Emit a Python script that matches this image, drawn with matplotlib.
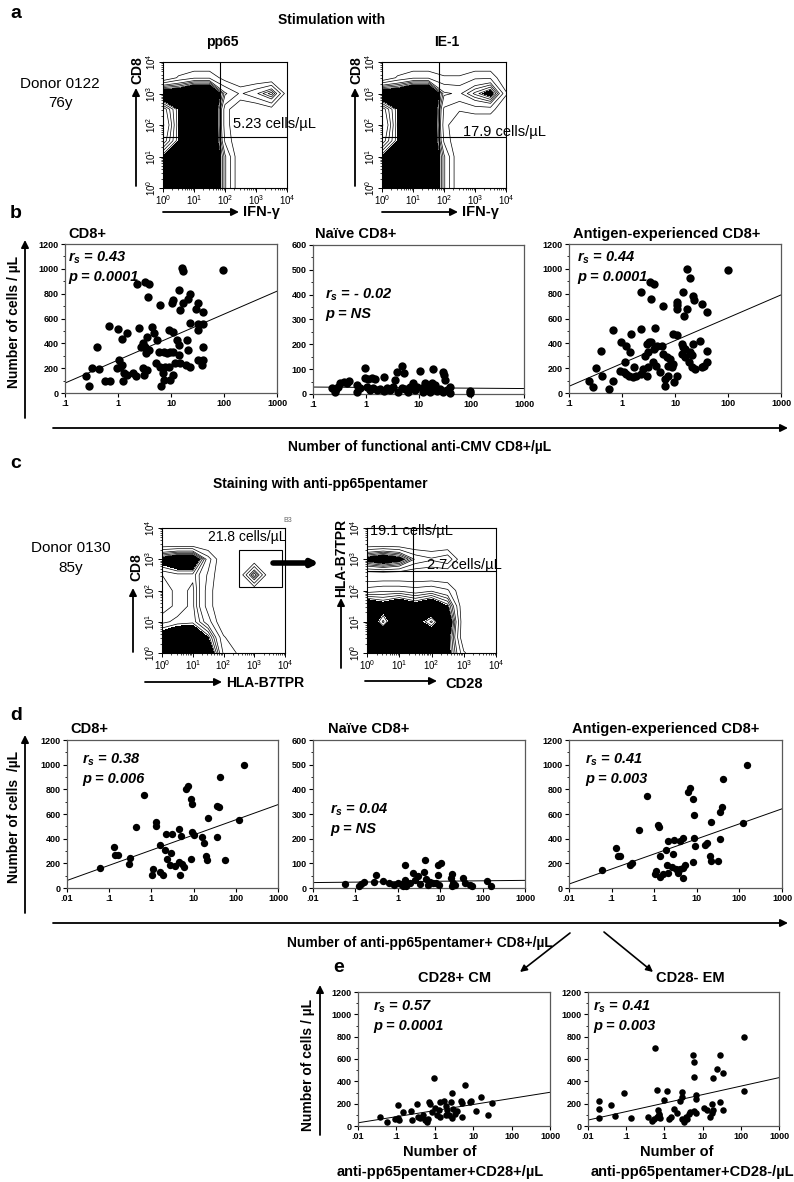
import numpy as np
import matplotlib
matplotlib.use('Agg')
import matplotlib.pyplot as plt
from matplotlib.patches import FancyArrowPatch, Rectangle
from matplotlib.ticker import FixedLocator, NullLocator, MultipleLocator

plt.rcParams['font.family'] = ['Liberation Sans', 'DejaVu Sans']
plt.rcParams['mathtext.fontset'] = 'custom'
plt.rcParams['mathtext.rm'] = 'Liberation Sans'
plt.rcParams['mathtext.it'] = 'Liberation Sans:italic:bold'
plt.rcParams['mathtext.bf'] = 'Liberation Sans:bold'

# ---- data ----
# b : functional anti-CMV CD8+ (x) vs CD8 subsets (y)
b_cd8_x = [95, 16, 17, 2.3, 3.3, 3.9, 3.7, 6.3, 14.4, 11, 10.5, 23, 21, 17, 32, 29, 15, 40, 0.69, 1.0,
           2.5, 1.5, 1.2, 0.41, 4.4, 4.8, 3.6, 5.5, 9.0, 11, 12.9, 14, 20, 20.5, 32, 32, 40, 23, 40, 3.0,
           3.3, 3.9, 3.4, 2.7, 6, 7.5, 8.4, 9.4, 11, 14, 0.245, 0.28, 0.33, 0.44, 0.56, 0.7, 1.04, 1.1, 0.97, 1.2,
           1.3, 1.5, 1.9, 2.2, 1.26, 3.1, 3.6, 3.0, 5.2, 6.3, 7.7, 9.3, 12, 15, 19, 23, 32, 40, 38, 7.1,
           7.3, 6.6, 9.7, 11]
b_cd8_y = [990, 1008, 980, 880, 895, 880, 775, 712, 832, 752, 725, 800, 760, 725, 725, 680, 667, 653, 539, 512,
           520, 480, 432, 373, 528, 480, 448, 427, 507, 493, 427, 387, 427, 347, 507, 555, 555, 565, 373, 400,
           373, 347, 320, 373, 333, 333, 320, 333, 333, 307, 133, 53, 200, 192, 93, 93, 267, 213, 200, 227,
           165, 147, 160, 139, 93, 147, 187, 200, 240, 213, 213, 213, 240, 240, 227, 213, 267, 267, 227, 160,
           107, 53, 107, 147]
b_naive_x = [0.23, 0.26, 0.27, 0.3, 0.33, 0.38, 0.44, 0.49, 0.68, 0.69, 0.97, 0.97, 1.1, 1.3, 1.5, 2.2, 3.6, 3.9,
             4.8, 5.3, 10.8, 18.6, 28.6, 30, 32, 0.78, 1.04, 1.2, 1.4, 1.6, 1.87, 2.2, 2.5, 2.9, 3.3, 4.1, 4.8,
             5.5, 6.4, 6.9, 8.0, 8.6, 9.2, 11.5, 12.3, 13.3, 14.3, 15.3, 16.5, 17.7, 19, 20.5, 22, 25.5, 29.5,
             34, 39, 39, 94, 94]
b_naive_y = [25, 9, 19, 30, 43, 50, 46, 54, 36, 9, 104, 63, 59, 63, 59, 67, 57, 90, 113, 86, 94, 100, 90, 77, 57,
             23, 30, 16, 23, 16, 19, 13, 23, 16, 30, 9, 23, 19, 9, 30, 43, 16, 30, 23, 9, 43, 16, 30, 9, 43, 23,
             36, 13, 19, 9, 16, 27, 5, 5, 13]
b_ag_x = [99, 16.6, 19, 2.25, 3.4, 4.1, 3.6, 6.0, 14.3, 10.8, 10.8, 11, 22, 23, 32, 17, 40, 15, 0.68, 2.3,
          4.2, 1.5, 0.97, 1.2, 0.4, 1.4, 2.9, 3.2, 3.6, 4.1, 4.6, 5.6, 9, 10.8, 13.3, 14.3, 15.5, 21.6, 30, 19,
          20.6, 40, 2.7, 3.1, 6, 7, 8, 13.4, 15.6, 18.2, 40, 35, 32, 20.6, 24, 0.24, 0.28, 0.33, 0.42, 0.57,
          0.68, 0.93, 1.1, 1.2, 1.36, 1.6, 1.16, 1.66, 1.87, 2.3, 2.9, 2.5, 3.1, 3.9, 4.3, 5.2, 6.4, 6.4, 7.4, 7.4,
          8.6, 9.2, 10.7, 9.5]
b_ag_y = [987, 1000, 928, 817, 890, 875, 758, 704, 812, 731, 678, 710, 785, 745, 718, 678, 656, 624, 511, 516,
          524, 476, 414, 382, 341, 333, 395, 409, 409, 355, 382, 382, 476, 468, 395, 368, 355, 395, 422, 328,
          306, 341, 301, 328, 314, 288, 274, 314, 288, 247, 247, 220, 206, 206, 193, 100, 46, 198, 140, 32,
          100, 180, 167, 153, 140, 126, 247, 207, 140, 153, 140, 193, 207, 247, 220, 172, 113, 59, 140, 220,
          207, 234, 140, 92]

# d : anti-pp65pentamer+ CD8+ (x) vs CD8 subsets (y)
d_cd8_x = [0.68, 6.6, 7.2, 8.6, 42.7, 160, 9.1, 35.5, 40, 22.5, 122, 0.44, 1.3, 1.3, 0.13, 0.134, 0.16, 0.06,
           0.31, 0.29, 2.2, 3.1, 4.4, 5, 9.1, 10, 16, 18, 35.5, 20, 21, 56, 1.57, 2.14, 2.9, 2.3, 2.8, 3.7,
           4.4, 5.3, 5.8, 8.8, 1.1, 1.6, 1.9, 1.04, 4.8]
d_cd8_y = [758, 805, 830, 724, 899, 1000, 681, 663, 655, 565, 549, 496, 538, 504, 331, 270, 270, 159,
           244, 193, 437, 437, 482, 419, 458, 432, 416, 363, 416, 260, 225, 230, 352, 310, 283, 238, 185, 177,
           212, 193, 172, 238, 151, 132, 106, 106, 106]
d_naive_x = [0.057, 0.12, 0.135, 0.16, 0.31, 0.28, 0.44, 0.63, 1.2, 1.3, 1.44, 1.57, 1.44, 2.27, 3, 2.5, 4.3,
             4.1, 4.7, 5.6, 6.7, 8.1, 8.9, 10.2, 8.9, 9.4, 19.4, 18.3, 20, 19.4, 22, 34.6, 38, 51, 57, 124,
             154, 0.83, 1, 1.9, 3.3, 5.1]
d_naive_y = [16, 9, 17, 26, 53, 26, 30, 22, 17, 7, 33, 7, 92, 62, 49, 33, 114, 66, 36, 26, 20, 22, 92, 101,
             53, 13, 57, 40, 22, 7, 13, 42, 22, 13, 9, 30, 7, 13, 22, 20, 17, 13]
d_ag_x = [0.66, 6.3, 7.0, 8.3, 41, 150, 8.7, 39, 35, 21.6, 120, 0.44, 1.24, 1.29, 0.13, 0.14, 0.16, 0.058,
          0.27, 0.3, 2.1, 2.9, 4, 4.7, 8.7, 9.1, 17.3, 15.7, 35.5, 1.36, 1.9, 2.8, 20, 21, 32, 8.3, 2.0, 2.6,
          3.3, 4, 4.8, 5.3, 1.04, 1.13, 1.4, 1.6, 2.1, 3.7, 4.7]
d_ag_y = [743, 780, 809, 723, 886, 994, 594, 654, 615, 535, 530, 474, 509, 496, 323, 257, 257, 146, 183,
          199, 384, 390, 384, 403, 403, 337, 368, 350, 395, 257, 305, 276, 257, 217, 217, 209, 183, 172,
          151, 151, 164, 183, 111, 138, 93, 111, 125, 125, 85]

# e : CD28+ CM and CD28- EM
e_cm_x = [0.038, 0.056, 0.093, 0.11, 0.118, 0.11, 0.145, 0.24, 0.25, 0.34, 0.37, 0.42, 0.48, 0.57, 0.63,
          0.67, 0.72, 0.77, 0.94, 0.85, 1.04, 1.15, 1.27, 1.4, 1.9, 2.1, 2.33, 2.73, 2.6, 3, 3.35, 3.85, 4.7,
          5.2, 5.2, 6.1, 8.1, 8.6, 12.1, 16.4, 23.6, 31, 1.7, 1.9, 2.85, 1.4]
e_cm_y = [82, 38, 59, 76, 53, 185, 126, 135, 53, 193, 82, 73, 97, 53, 38, 59, 214, 193, 434, 126, 164, 97,
          141, 214, 176, 141, 97, 293, 214, 155, 111, 135, 228, 205, 82, 369, 214, 228, 135, 258, 97, 205,
          228, 97, 76, 82]
e_em_x = [0.02, 0.02, 0.02, 0.039, 0.05, 0.088, 0.13, 0.37, 0.48, 0.53, 0.64, 0.71, 0.58, 0.64, 0.67, 0.71,
          0.78, 1.17, 1.0, 1.3, 1.5, 1.75, 2.2, 2.5, 2.9, 2.9, 2.9, 3.2, 3.6, 3.9, 4.3, 5.6, 5.8, 5.8, 4.8,
          5.9, 6.8, 6.8, 6.8, 11, 13, 15.8, 18, 18, 19, 19, 23.6, 27.7, 34, 28.8, 34, 122, 122]
e_em_y = [220, 155, 76, 185, 88, 296, 70, 82, 44, 67, 82, 97, 697, 325, 146, 105, 76, 311, 237, 67, 82, 155,
          117, 223, 258, 308, 67, 38, 82, 59, 103, 639, 574, 439, 126, 135, 117, 281, 243, 164, 146, 82, 117,
          199, 141, 428, 507, 636, 478, 214, 141, 800, 316]

# regression lines: (value at x=1, change per decade)
fit_b = [(265, 185), (26.5, -1.5), (238, 184)]
fit_d = [(307, 123), (25.6, 1.8), (276, 122)]
fit_e = [(138, 54.6), (205, 76)]

stats_b = [('0.43', '0.0001'), ('- 0.02', 'NS'), ('0.44', '0.0001')]
stats_d = [('0.38', '0.006'), ('0.04', 'NS'), ('0.41', '0.003')]
stats_e = [('0.57', '0.0001'), ('0.41', '0.003')]

# flow cytometry density (log decades 0..4, step 0.5), rows from top (10^4) to bottom (10^0)
flow_pp65 = [[0, 0, 0, 0, 0, 0, 0, 0, 0],
             [0, 0.8, 1.2, 1.2, 0.4, 0, 0, 0, 0],
             [4, 4, 5, 5, 2, 1.2, 1.8, 2.7, 0.3],
             [1.6, 3, 5, 5, 1, 0, 0, 0.4, 0],
             [1.2, 3, 5, 5, 1, 0, 0, 0, 0],
             [1.6, 3, 5, 5, 1.2, 0, 0, 0, 0],
             [3, 4, 5, 5, 2, 0, 0, 0, 0],
             [4, 5, 5, 5, 2, 0, 0, 0, 0],
             [4, 5, 5, 5, 2, 0, 0, 0, 0]]
flow_ie1 = [[0, 0, 0, 0, 0, 0, 0, 0, 0],
            [0, 0.8, 1.2, 1.2, 0.8, 0.8, 1.2, 1.2, 0],
            [4, 4, 5, 5, 2, 1.8, 2.6, 3.4, 0.8],
            [1.6, 3, 5, 5, 1.2, 0.8, 1, 1, 0],
            [1.2, 3, 5, 5, 1, 0, 0, 0, 0],
            [1.6, 3, 5, 5, 1.2, 0, 0, 0, 0],
            [3, 4, 5, 5, 2, 0, 0, 0, 0],
            [4, 5, 5, 5, 2, 0, 0, 0, 0],
            [4, 5, 5, 5, 2, 0, 0, 0, 0]]
flow_pent = [[0, 0, 0, 0, 0, 0, 0, 0, 0],
             [0, 0, 0, 0, 0, 0, 0, 0, 0],
             [3.4, 4, 4, 1.6, 0, 0, 0, 0, 0],
             [2.2, 2.4, 2.4, 1.2, 0, 0, 2.8, 0, 0],
             [2.0, 2.3, 2.6, 1, 0, 0, 0, 0, 0],
             [2.0, 2.3, 2.6, 1, 0, 0, 0, 0, 0],
             [2.4, 2.6, 2.7, 1.6, 0, 0, 0, 0, 0],
             [3.4, 4, 4, 3, 0.8, 0, 0, 0, 0],
             [4, 5, 5, 4, 1.2, 0.6, 0, 0, 0]]
flow_cd28 = [[0, 0, 0, 0, 0, 0, 0, 0, 0],
             [0, 0, 0, 0, 0, 0, 0, 0, 0],
             [3.4, 4, 3.4, 1.8, 1.4, 1.8, 0, 0, 0],
             [0, 0, 0, 0, 0, 0, 0, 0, 0],
             [1.6, 1.8, 1.8, 1.6, 1.8, 1.4, 0, 0, 0],
             [4, 3.4, 4, 3.4, 4, 3, 0, 0, 0],
             [4, 2.4, 4, 3.4, 2.4, 4, 0, 0, 0],
             [3.4, 4, 4, 3.4, 4, 3.4, 0, 0, 0],
             [3.4, 4, 4, 3.4, 4, 3.4, 0.8, 0, 0]]

W, H = 794, 1182
fig = plt.figure(figsize=(W / 100, H / 100), dpi=100)


def box(l, t, r, b):
    return [l / W, 1 - b / H, (r - l) / W, (b - t) / H]


def txt(x, y, s, **kw):
    kw.setdefault('va', 'center')
    fig.text(x / W, 1 - y / H, s, **kw)


def arrow(x0, y0, x1, y1, lw=1.3, ms=11, style='-|>'):
    fig.add_artist(FancyArrowPatch((x0 / W, 1 - y0 / H), (x1 / W, 1 - y1 / H),
                                   transform=fig.transFigure, arrowstyle=style,
                                   mutation_scale=ms, lw=lw, color='k',
                                   shrinkA=0, shrinkB=0))


def flow(rect, grid, qx=None, qy=None):
    ax = fig.add_axes(box(*rect))
    Z = np.array(grid, float)[::-1]
    g = np.linspace(0, 4, Z.shape[0])
    ax.contourf(g, g, Z, levels=[3, 99], colors='k')
    ax.contour(g, g, Z, levels=[0.7, 1.3, 1.9, 2.2, 2.5, 2.8], colors='k', linewidths=0.5)
    if qx is not None:
        ax.axvline(qx, color='k', lw=0.8)
        ax.axhline(qy, color='k', lw=0.8)
    ax.set_xlim(0, 4)
    ax.set_ylim(0, 4)
    labs = [r'$10^{%d}$' % i for i in range(5)]
    ax.set_xticks(range(5))
    ax.set_xticklabels(labs, fontsize=7)
    ax.set_yticks(range(5))
    ax.set_yticklabels(labs, fontsize=7, rotation=90, va='center')
    minors = [d + np.log10(k) for d in range(4) for k in range(2, 10)]
    ax.xaxis.set_minor_locator(FixedLocator(minors))
    ax.yaxis.set_minor_locator(FixedLocator(minors))
    ax.tick_params(which='major', length=3, width=0.7, pad=0.5)
    ax.tick_params(which='minor', length=1.5, width=0.5)
    for s in ax.spines.values():
        s.set_linewidth(0.8)
    return ax


def scatter(rect, xs, ys, fit, stats, xmin, ymax, ystep, size, stat_xy):
    ax = fig.add_axes(box(*rect))
    ax.scatter(xs, ys, s=size, c='k', lw=0, clip_on=False, zorder=3)
    lx = np.array([xmin, 1000.0])
    ax.plot(lx, fit[0] + fit[1] * np.log10(lx), color='k', lw=0.7)
    ax.set_xscale('log')
    ax.set_xlim(xmin, 1000)
    ax.set_ylim(0, ymax)
    dec = [xmin * 10 ** i for i in range(int(round(np.log10(1000 / xmin))) + 1)]
    ax.set_xticks(dec)
    ax.set_xticklabels([('%g' % d).lstrip('0') if d < 1 else '%g' % d for d in dec])
    ax.xaxis.set_minor_locator(NullLocator())
    ax.yaxis.set_major_locator(MultipleLocator(ystep))
    ax.yaxis.set_minor_locator(MultipleLocator(ystep / 2))
    ax.tick_params(which='major', labelsize=6.5, length=3, width=0.8, pad=1.5)
    ax.tick_params(which='minor', length=1.5, width=0.6)
    for lab in ax.get_xticklabels() + ax.get_yticklabels():
        lab.set_fontweight('bold')
    for s in ax.spines.values():
        s.set_linewidth(0.9)
        s.set_color('0.35')
    sx, sy = stat_xy
    txt(sx, sy, r'$r_s$ = ' + stats[0], fontsize=10.5, fontweight='bold', style='italic')
    txt(sx, sy + 19, 'p = ' + stats[1], fontsize=10.5, fontweight='bold', style='italic')
    return ax


# ---------- panel a ----------
txt(10, 14, 'a', fontsize=14, fontweight='bold')
txt(332, 20, 'Stimulation with', fontsize=10, fontweight='bold', ha='center')
txt(222, 42, 'pp65', fontsize=10, fontweight='bold', ha='center')
txt(447, 42, 'IE-1', fontsize=10, fontweight='bold', ha='center')
txt(60, 84, 'Donor 0122', fontsize=11, ha='center')
txt(60, 103, '76y', fontsize=11, ha='center')

flow((163, 62, 287, 188), flow_pp65, 1.84, 1.62)
flow((382, 62, 506, 188), flow_ie1, 1.85, 1.63)
txt(233, 124, '5.23 cells/µL', fontsize=10.5)
txt(463, 132, '17.9 cells/µL', fontsize=10.5)
for x0 in (136, 355):
    arrow(x0, 186, x0, 88)
    txt(x0 + 1, 70, 'CD8', fontsize=10, fontweight='bold', rotation=90, ha='center')
for x0 in (163, 382):
    arrow(x0, 212, x0 + 76, 212)
    txt(x0 + 80, 212, 'IFN-γ', fontsize=10.5, fontweight='bold')

# ---------- panel b ----------
txt(10, 214, 'b', fontsize=14, fontweight='bold')
scatter((65, 244, 277, 393), b_cd8_x, b_cd8_y, fit_b[0], stats_b[0], 0.1, 1200, 200, 36, (68, 258))
scatter((313, 245, 524, 394), b_naive_x, b_naive_y, fit_b[1], stats_b[1], 0.1, 600, 100, 36, (325, 295))
scatter((569, 244, 781, 393), b_ag_x, b_ag_y, fit_b[2], stats_b[2], 0.1, 1200, 200, 36, (577, 258))
txt(68, 234, 'CD8+', fontsize=10.5, fontweight='bold')
txt(315, 234, 'Naïve CD8+', fontsize=10.5, fontweight='bold')
txt(573, 234, 'Antigen-experienced CD8+', fontsize=10.5, fontweight='bold')
arrow(25, 418, 25, 240)
txt(14, 322, 'Number of cells / µL', fontsize=10, fontweight='bold', rotation=90, ha='center')
arrow(53, 428, 788, 428)
txt(420, 447, 'Number of functional anti-CMV CD8+/µL', fontsize=10, fontweight='bold', ha='center')

# ---------- panel c ----------
txt(10, 463, 'c', fontsize=14, fontweight='bold')
txt(320, 484, 'Staining with anti-pp65pentamer', fontsize=10, fontweight='bold', ha='center')
txt(71, 548, 'Donor 0130', fontsize=11, ha='center')
txt(71, 568, '85y', fontsize=11, ha='center')
ax_c1 = flow((162, 528, 285, 653), flow_pent)
ax_c1.add_patch(Rectangle((2.5, 2.1), 1.4, 1.2, fill=False, lw=0.8, ec='k'))
flow((367, 528, 496, 653), flow_cd28, 1.43, 2.62)
txt(208, 537, '21.8 cells/µL', fontsize=10)
txt(283, 521, 'B3', fontsize=5, color='0.4')
txt(370, 531, '19.1 cells/µL', fontsize=10.5)
txt(427, 565, '2.7 cells/µL', fontsize=10.5)
arrow(273, 563, 319, 563, lw=4, ms=9, style='-|>')
arrow(133, 652, 133, 588)
txt(136, 567, 'CD8', fontsize=10, fontweight='bold', rotation=90, ha='center')
arrow(145, 682, 222, 682)
txt(226, 683, 'HLA-B7TPR', fontsize=10, fontweight='bold')
arrow(341, 668, 341, 598)
txt(341, 558, 'HLA-B7TPR', fontsize=10, fontweight='bold', rotation=90, ha='center')
arrow(365, 681, 437, 681)
txt(445, 684, 'CD28', fontsize=10.5, fontweight='bold')

# ---------- panel d ----------
txt(10, 716, 'd', fontsize=14, fontweight='bold')
scatter((67, 740, 278, 888), d_cd8_x, d_cd8_y, fit_d[0], stats_d[0], 0.01, 1200, 200, 28, (82, 760))
scatter((313, 740, 525, 888), d_naive_x, d_naive_y, fit_d[1], stats_d[1], 0.01, 600, 100, 28, (330, 810))
scatter((569, 740, 782, 888), d_ag_x, d_ag_y, fit_d[2], stats_d[2], 0.01, 1200, 200, 28, (585, 760))
txt(70, 729, 'CD8+', fontsize=10.5, fontweight='bold')
txt(328, 729, 'Naïve CD8+', fontsize=10.5, fontweight='bold')
txt(572, 729, 'Antigen-experienced CD8+', fontsize=10.5, fontweight='bold')
arrow(25, 913, 25, 735)
txt(14, 817, 'Number of cells  /µL', fontsize=10, fontweight='bold', rotation=90, ha='center')
arrow(53, 923, 788, 923)
txt(420, 943, 'Number of anti-pp65pentamer+ CD8+/µL', fontsize=10, fontweight='bold', ha='center')
arrow(570, 933, 520, 972, lw=1.2, ms=10)
arrow(604, 932, 653, 972, lw=1.2, ms=10)

# ---------- panel e ----------
txt(333, 968, 'e', fontsize=14, fontweight='bold')
scatter((358, 992, 550, 1126), e_cm_x, e_cm_y, fit_e[0], stats_e[0], 0.01, 1200, 200, 22, (373, 1007))
scatter((588, 992, 779, 1126), e_em_x, e_em_y, fit_e[1], stats_e[1], 0.01, 1200, 200, 22, (593, 1007))
txt(455, 978, 'CD28+ CM', fontsize=10.5, fontweight='bold', ha='center')
txt(690, 978, 'CD28- EM', fontsize=10.5, fontweight='bold', ha='center')
arrow(320, 1135, 320, 985)
txt(308, 1065, 'Number of cells / µL', fontsize=10, fontweight='bold', rotation=90, ha='center')
txt(440, 1152, 'Number of', fontsize=10.5, fontweight='bold', ha='center')
txt(440, 1172, 'anti-pp65pentamer+CD28+/µL', fontsize=10.5, fontweight='bold', ha='center')
txt(677, 1152, 'Number of', fontsize=10.5, fontweight='bold', ha='center')
txt(692, 1172, 'anti-pp65pentamer+CD28-/µL', fontsize=10.5, fontweight='bold', ha='center')

fig.savefig('out.png', dpi=100, facecolor='white')
